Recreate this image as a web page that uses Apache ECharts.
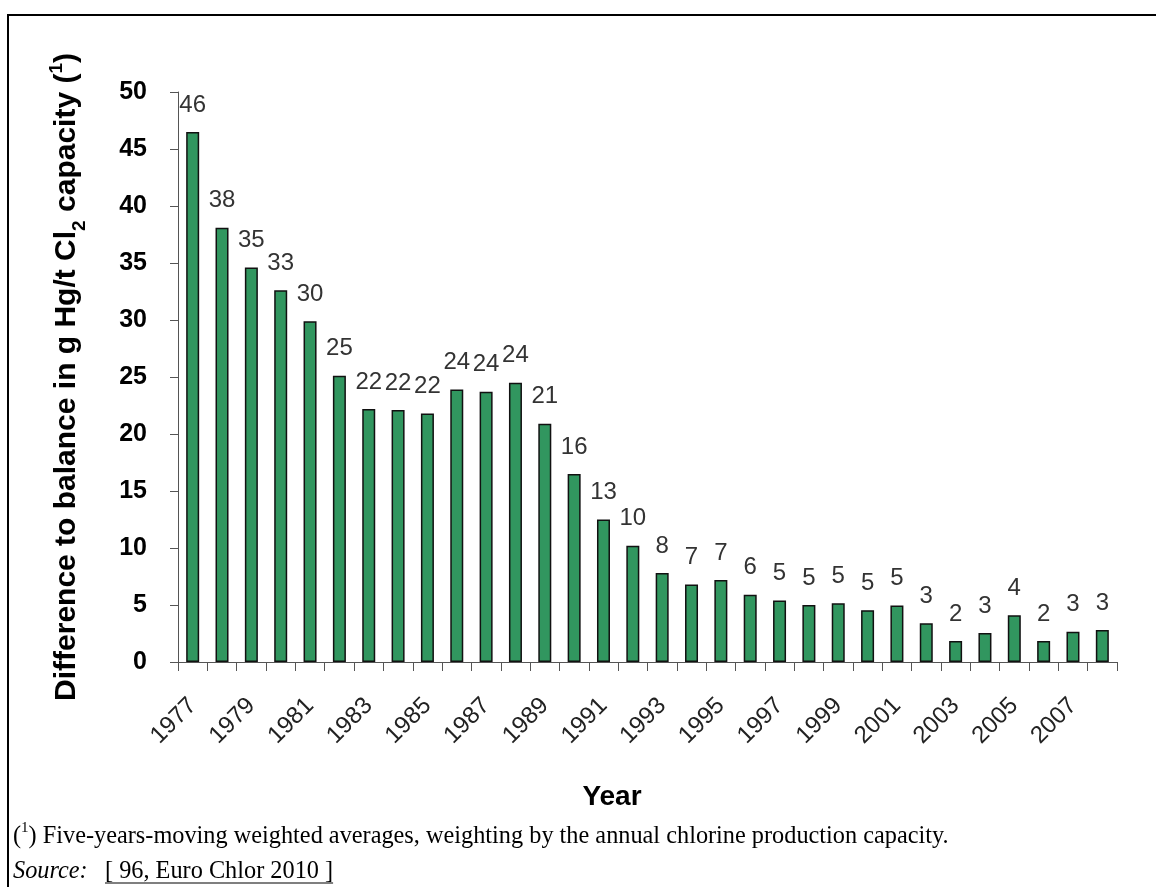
<!DOCTYPE html>
<html>
<head>
<meta charset="utf-8">
<script src="https://cdn.jsdelivr.net/npm/echarts@6/dist/echarts.min.js"></script>
<style>
html,body{margin:0;padding:0;background:#fff;}
#chart{width:1156px;height:887px;}
</style>
</head>
<body>
<div id="chart"></div>
<script>
// ---- data ----
const years = ['1977','1978','1979','1980','1981','1982','1983','1984','1985','1986','1987','1988','1989','1990','1991','1992','1993','1994','1995','1996','1997','1998','1999','2000','2001','2002','2003','2004','2005','2006','2007','2008'];
const values = [46.5, 38.1, 34.6, 32.6, 29.9, 25.1, 22.2, 22.1, 21.8, 23.9, 23.7, 24.5, 20.9, 16.5, 12.5, 10.2, 7.8, 6.8, 7.2, 5.9, 5.4, 5.0, 5.15, 4.55, 4.95, 3.4, 1.85, 2.55, 4.1, 1.85, 2.65, 2.8];
const valueLabels = ['46','38','35','33','30','25','22','22','22','24','24','24','21','16','13','10','8','7','7','6','5','5','5','5','5','3','2','3','4','2','3','3'];
const yMin = 0, yMax = 50, yStep = 5;
const xTitle = 'Year';
const footnoteText = ' Five-years-moving weighted averages, weighting by the annual chlorine production capacity.';
const sourceLabel = 'Source:';
const sourceRef = '[ 96, Euro Chlor 2010 ]';

const sans = '"Liberation Sans", Arial, sans-serif';
const serif = '"Liberation Serif", "Times New Roman", serif';
const green = '#31965f';
const noteSize = 24.3;

function measure(txt, font) {
  const c = document.createElement('canvas').getContext('2d');
  c.font = font;
  return c.measureText(txt).width;
}
const refX = 105, srcCy = 872;
const srcRefW = measure(sourceRef, noteSize + 'px ' + serif);

const chart = echarts.init(document.getElementById('chart'), null, {renderer: 'canvas'});
chart.setOption({
  backgroundColor: '#fff',
  animation: false,
  grid: {left: 178, right: 39, top: 92, bottom: 225, containLabel: false},
  xAxis: {
    type: 'category',
    data: years,
    boundaryGap: true,
    name: xTitle,
    nameLocation: 'middle',
    nameGap: 121,
    nameTextStyle: {fontFamily: sans, fontWeight: 'bold', fontSize: 28, color: '#000', padding: [0, 71, 0, 0]},
    axisLine: {show: true, lineStyle: {color: '#555', width: 1}},
    axisTick: {show: true, interval: 0, length: 9, lineStyle: {color: '#555', width: 1}},
    axisLabel: {interval: 1, rotate: 45, fontFamily: sans, fontSize: 24, color: '#222', margin: 40}
  },
  yAxis: {
    type: 'value',
    min: yMin, max: yMax, interval: yStep,
    name: '{a|Difference to balance in g Hg/t Cl}{s|2}{a| capacity (}{p|1}{a|)}',
    nameLocation: 'middle',
    nameRotate: 90,
    nameGap: 96,
    nameTextStyle: {
      fontFamily: sans, fontWeight: 'bold', fontSize: 30, color: '#000',
      rich: {
        a: {fontFamily: sans, fontWeight: 'bold', fontSize: 30, color: '#000'},
        s: {fontFamily: sans, fontWeight: 'bold', fontSize: 19, color: '#000', verticalAlign: 'bottom', padding: [0, 0, -7, 0]},
        p: {fontFamily: sans, fontWeight: 'bold', fontSize: 19, color: '#000', verticalAlign: 'top', padding: [-5, 0, 0, 0]}
      }
    },
    axisLine: {show: true, lineStyle: {color: '#555', width: 1}},
    axisTick: {show: true, length: 8, lineStyle: {color: '#555', width: 1}},
    splitLine: {show: false},
    axisLabel: {fontFamily: sans, fontWeight: 'bold', fontSize: 25, color: '#000', margin: 31}
  },
  series: [{
    type: 'bar',
    data: values,
    barWidth: 13,
    itemStyle: {color: green, borderColor: '#111', borderWidth: 1.5},
    label: {
      show: true, position: 'top', distance: 15,
      fontFamily: sans, fontSize: 24, color: '#333',
      formatter: p => valueLabels[p.dataIndex]
    }
  }],
  graphic: [
    {type: 'rect', shape: {x: 8, y: 15, width: 1300, height: 1000}, style: {fill: 'none', stroke: '#000', lineWidth: 2}, silent: true},
    {type: 'text', x: 13, y: 837, style: {
      text: '{n|(}{s|1}{n|)' + footnoteText + '}',
      verticalAlign: 'middle',
      rich: {
        n: {fontFamily: serif, fontSize: noteSize, fill: '#000'},
        s: {fontFamily: serif, fontSize: 15, fill: '#000', verticalAlign: 'top', padding: [-4, 0, 0, 0]}
      }
    }},
    {type: 'text', x: 13, y: srcCy, style: {
      text: sourceLabel, verticalAlign: 'middle',
      fontFamily: serif, fontStyle: 'italic', fontSize: noteSize, fill: '#000'
    }},
    {type: 'text', x: refX, y: srcCy, style: {
      text: sourceRef, verticalAlign: 'middle',
      fontFamily: serif, fontSize: noteSize, fill: '#000'
    }},
    {type: 'line', shape: {x1: refX, y1: srcCy + 11, x2: refX + srcRefW, y2: srcCy + 11}, style: {stroke: '#000', lineWidth: 1.2}}
  ]
});
</script>
</body>
</html>
